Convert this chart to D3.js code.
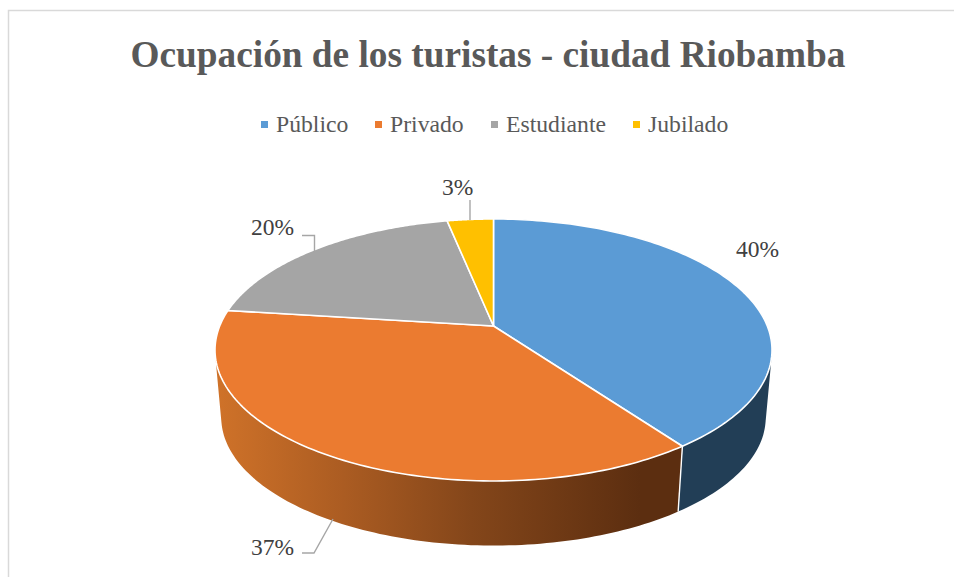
<!DOCTYPE html>
<html><head><meta charset="utf-8">
<script src="https://cdn.jsdelivr.net/npm/d3@7"></script>
<style>html,body{margin:0;padding:0;background:#fff}svg{display:block}text{font-family:"Liberation Serif","Times New Roman",serif}</style>
</head><body><svg id="c" width="954" height="577"></svg>
<script>
const categories = ["Público","Privado","Estudiante","Jubilado"];
const values = [40,37,19.8,3.2];
const labels = ["40%","37%","20%","3%"];
const colors = ["#5b9bd5","#eb7b30","#a5a5a5","#ffc000"];
const title = "Ocupación de los turistas - ciudad Riobamba";

const svg = d3.select("#c");
// frame
svg.append("path").attr("d",`M8.5 577V10.5H954`).attr("fill","none").attr("stroke","#d9d9d9").attr("stroke-width",1.5);

svg.append("text").attr("x",488).attr("y",67).attr("text-anchor","middle")
  .attr("font-size",37.3).attr("font-weight","bold").attr("fill","#595959").text(title);

// legend
const legX=[261,375,491,633], legTx=[276,390,506,648];
const leg=svg.selectAll(".leg").data(categories).join("g").attr("class","leg");
leg.append("rect").attr("x",(d,i)=>legX[i]).attr("y",121).attr("width",7).attr("height",7).attr("fill",(d,i)=>colors[i]);
leg.append("text").attr("x",(d,i)=>legTx[i]).attr("y",132).attr("font-size",23.7).attr("fill","#595959").text(d=>d);

// perspective disk
const cx=493.5, cy=326, k=0.183, a=273.8, b=126.6;
const vpY=3353, s=0.9775;
function rimTop(t){const u=Math.sin(t),v=-Math.cos(t),w=1-k*v;return [cx+a*u/w,cy+b*v/w];}
function rimLow(t){const p=rimTop(t);return [cx+(p[0]-cx)*s,vpY+(p[1]-vpY)*s];}
const pie=d3.pie().sort(null).value(d=>d)(values);
const line=d3.line();
const arcT=(t0,t1,f)=>d3.range(0,121).map(i=>f(t0+(t1-t0)*i/120));

// wall gradient
const defs=svg.append("defs");
const g=defs.append("linearGradient").attr("id","wall").attr("gradientUnits","userSpaceOnUse")
  .attr("x1",217).attr("x2",640).attr("y1",0).attr("y2",0);
[[0,"#cf7229"],[0.3,"#ab5c22"],[0.6,"#84461a"],[1,"#5c2e10"]].forEach(d=>g.append("stop").attr("offset",d[0]).attr("stop-color",d[1]));

// walls of first two slices: one path of same-orientation quads so folds stay filled
const wallFill=["#223e56","url(#wall)"];
pie.slice(0,2).forEach((d,i)=>{
  const T=arcT(d.startAngle,d.endAngle,rimTop), L=arcT(d.startAngle,d.endAngle,rimLow);
  const quads=d3.range(0,T.length-1).map(j=>{
    const q=[T[j],T[j+1],L[j+1],L[j]];
    if(d3.polygonArea(q)<0) q.reverse();
    return line(q)+"Z";
  }).join("");
  svg.append("path").attr("d",quads).attr("fill",wallFill[i]);
});
// separator between the two walls
const sep=pie[0].endAngle;
svg.append("path").attr("d",line([rimTop(sep),rimLow(sep)])).attr("stroke","#fff").attr("stroke-width",1.4).attr("fill","none");
// top faces
pie.forEach((d,i)=>{
  const pts=[[cx,cy]].concat(arcT(d.startAngle,d.endAngle,rimTop));
  svg.append("path").attr("d",line(pts)+"Z").attr("fill",colors[i]).attr("stroke","#fff").attr("stroke-width",1.6).attr("stroke-linejoin","round");
});

// leader lines
const leaders=[[[333,519],[314,553],[302,553]],[[314.5,251],[314.5,235.5],[302,235.5]],[[470,220],[470,200]]];
leaders.forEach(l=>svg.append("path").attr("d",line(l)).attr("fill","none").attr("stroke","#a6a6a6").attr("stroke-width",1.4));

// data labels
const lx=[736,251,251,442], ly=[257,555,235,195];
svg.selectAll(".lab").data(labels).join("text").attr("class","lab")
  .attr("x",(d,i)=>lx[i]).attr("y",(d,i)=>ly[i]).attr("font-size",23.5).attr("fill","#404040").text(d=>d);
</script></body></html>
